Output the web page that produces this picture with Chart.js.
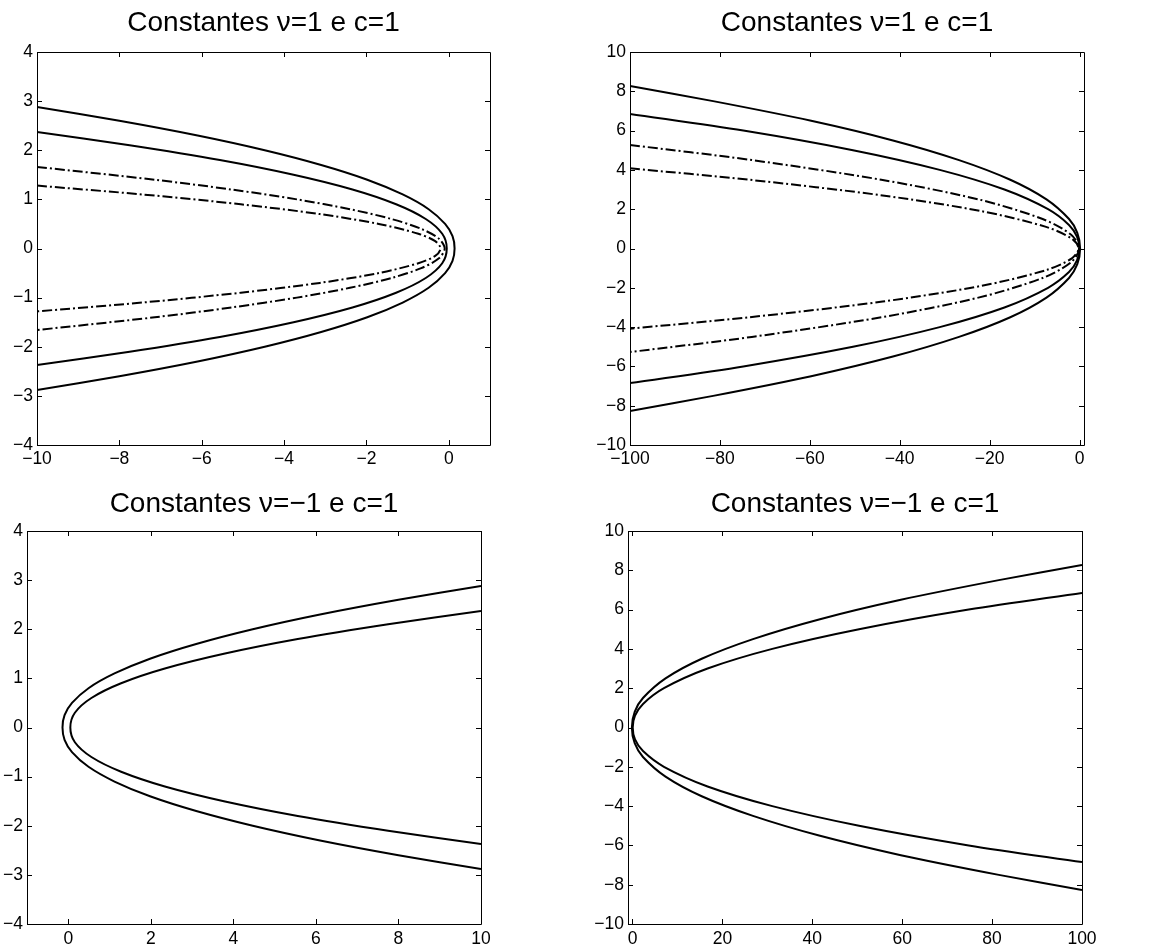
<!DOCTYPE html>
<html>
<head>
<meta charset="utf-8">
<title>Constantes</title>
<script src="https://cdn.jsdelivr.net/npm/chart.js@4"></script>
<style>
  body { margin: 0; background: #fff; }
  #page { position: relative; width: 1152px; height: 948px; }
  canvas { position: absolute; }
</style>
</head>
<body>
<div id="page">
  <canvas id="tl" width="576" height="474" style="left:0;top:0;width:576px;height:474px"></canvas>
  <canvas id="tr" width="576" height="474" style="left:576px;top:0;width:576px;height:474px"></canvas>
  <canvas id="bl" width="576" height="474" style="left:0;top:474px;width:576px;height:474px"></canvas>
  <canvas id="br" width="576" height="474" style="left:576px;top:474px;width:576px;height:474px"></canvas>
</div>
<script>
// titles
const titleTop = "Constantes \u03bd=1 e c=1";
const titleBottom = "Constantes \u03bd=\u22121 e c=1";

// tick labels
const ticksSmallX = [-10, -8, -6, -4, -2, 0];
const ticksBigX = [-100, -80, -60, -40, -20, 0];
const ticksSmallXPos = [0, 2, 4, 6, 8, 10];
const ticksBigXPos = [0, 20, 40, 60, 80, 100];
const ticksSmallY = [-4, -3, -2, -1, 0, 1, 2, 3, 4];
const ticksBigY = [-10, -8, -6, -4, -2, 0, 2, 4, 6, 8, 10];

// top left (nu = 1)
const tlOuterY = [2.88, 2.6, 2.3, 2.0, 1.7, 1.4, 1.1, 0.8, 0.5, 0.25, 0, -0.25, -0.5, -0.8, -1.1, -1.4, -1.7, -2.0, -2.3, -2.6, -2.88];
const tlOuterX = [-10, -8.0, -6.1, -4.47, -3.1, -1.98, -1.12, -0.49, -0.09, 0.09, 0.14, 0.09, -0.09, -0.49, -1.12, -1.98, -3.1, -4.47, -6.1, -8.0, -10];
const tlInnerY = [2.37, 2.1, 1.8, 1.5, 1.2, 0.9, 0.6, 0.3, 0, -0.3, -0.6, -0.9, -1.2, -1.5, -1.8, -2.1, -2.37];
const tlInnerX = [-10, -7.75, -5.56, -3.77, -2.34, -1.28, -0.56, -0.16, -0.05, -0.16, -0.56, -1.28, -2.34, -3.77, -5.56, -7.75, -10];
const tlDashOuterY = [1.66, 1.4, 1.2, 1.0, 0.8, 0.6, 0.4, 0.2, 0, -0.2, -0.4, -0.6, -0.8, -1.0, -1.2, -1.4, -1.66];
const tlDashOuterX = [-10, -7.14, -5.27, -3.69, -2.4, -1.39, -0.67, -0.24, -0.1, -0.24, -0.67, -1.39, -2.4, -3.69, -5.27, -7.14, -10];
const tlDashInnerY = [1.28, 1.1, 0.9, 0.7, 0.5, 0.3, 0.15, 0, -0.15, -0.3, -0.5, -0.7, -0.9, -1.1, -1.28];
const tlDashInnerX = [-10, -7.44, -5.05, -3.13, -1.7, -0.74, -0.33, -0.2, -0.33, -0.74, -1.7, -3.13, -5.05, -7.44, -10];

// top right (nu = 1, wide range)
const trOuterY = [8.27, 7.5, 6.5, 5.5, 4.5, 3.5, 2.5, 1.5, 0.8, 0, -0.8, -1.5, -2.5, -3.5, -4.5, -5.5, -6.5, -7.5, -8.27];
const trOuterX = [-100, -81.5, -59.7, -41.5, -26.8, -15.4, -7.35, -2.33, -0.49, 0.14, -0.49, -2.33, -7.35, -15.4, -26.8, -41.5, -59.7, -81.5, -100];
const trInnerY = [6.85, 6.0, 5.0, 4.0, 3.0, 2.0, 1.2, 0.6, 0, -0.6, -1.2, -2.0, -3.0, -4.0, -5.0, -6.0, -6.85];
const trInnerX = [-100, -74.8, -50.4, -31.1, -16.7, -7.0, -2.34, -0.56, -0.05, -0.56, -2.34, -7.0, -16.7, -31.1, -50.4, -74.8, -100];
const trDashOuterY = [5.27, 4.5, 3.5, 2.5, 1.5, 0.7, 0, -0.7, -1.5, -2.5, -3.5, -4.5, -5.27];
const trDashOuterX = [-100, -72.9, -44.1, -22.5, -8.2, -1.86, -0.1, -1.86, -8.2, -22.5, -44.1, -72.9, -100];
const trDashInnerY = [4.08, 3.5, 2.7, 1.9, 1.1, 0.5, 0, -0.5, -1.1, -1.9, -2.7, -3.5, -4.08];
const trDashInnerX = [-100, -73.5, -43.8, -21.8, -7.44, -1.7, -0.2, -1.7, -7.44, -21.8, -43.8, -73.5, -100];

// bottom left (nu = -1)
const blOuterY = [2.88, 2.6, 2.3, 2.0, 1.7, 1.4, 1.1, 0.8, 0.5, 0.25, 0, -0.25, -0.5, -0.8, -1.1, -1.4, -1.7, -2.0, -2.3, -2.6, -2.88];
const blOuterX = [10, 8.0, 6.1, 4.47, 3.1, 1.98, 1.12, 0.49, 0.09, -0.09, -0.14, -0.09, 0.09, 0.49, 1.12, 1.98, 3.1, 4.47, 6.1, 8.0, 10];
const blInnerY = [2.37, 2.1, 1.8, 1.5, 1.2, 0.9, 0.6, 0.3, 0, -0.3, -0.6, -0.9, -1.2, -1.5, -1.8, -2.1, -2.37];
const blInnerX = [10, 7.75, 5.56, 3.77, 2.34, 1.28, 0.56, 0.16, 0.05, 0.16, 0.56, 1.28, 2.34, 3.77, 5.56, 7.75, 10];

// bottom right (nu = -1, wide range)
const brOuterY = [8.27, 7.5, 6.5, 5.5, 4.5, 3.5, 2.5, 1.5, 0.8, 0, -0.8, -1.5, -2.5, -3.5, -4.5, -5.5, -6.5, -7.5, -8.27];
const brOuterX = [100, 81.5, 59.7, 41.5, 26.8, 15.4, 7.35, 2.33, 0.49, -0.14, 0.49, 2.33, 7.35, 15.4, 26.8, 41.5, 59.7, 81.5, 100];
const brInnerY = [6.85, 6.0, 5.0, 4.0, 3.0, 2.0, 1.2, 0.6, 0, -0.6, -1.2, -2.0, -3.0, -4.0, -5.0, -6.0, -6.85];
const brInnerX = [100, 74.8, 50.4, 31.1, 16.7, 7.0, 2.34, 0.56, 0.05, 0.56, 2.34, 7.0, 16.7, 31.1, 50.4, 74.8, 100];

Chart.defaults.font.family = "'Liberation Sans', Arial, sans-serif";
Chart.defaults.font.size = 17.5;
Chart.defaults.color = "#000";

function pts(xs, ys) {
  return xs.map((x, i) => ({ x: x, y: ys[i] }));
}

function curve(xs, ys, dashed) {
  return {
    data: pts(xs, ys),
    showLine: true,
    borderColor: "#000",
    borderWidth: 2,
    borderDash: dashed ? [10, 3, 2, 3] : [],
    pointRadius: 0,
    tension: 0.3,
  };
}

function minus(v) {
  return String(v).replace("-", "\u2212");
}

// matlab style box with inward ticks on all four sides
const boxPlugin = {
  id: "box",
  afterDraw(chart) {
    const { ctx, chartArea: a, scales } = chart;
    const len = 5;
    ctx.save();
    ctx.strokeStyle = "#000";
    ctx.lineWidth = 1;
    ctx.beginPath();
    ctx.rect(Math.round(a.left) + 0.5, Math.round(a.top) + 0.5,
      Math.round(a.right - a.left), Math.round(a.bottom - a.top));
    scales.x.ticks.forEach(t => {
      const px = Math.round(scales.x.getPixelForValue(t.value)) + 0.5;
      ctx.moveTo(px, a.bottom); ctx.lineTo(px, a.bottom - len);
      ctx.moveTo(px, a.top); ctx.lineTo(px, a.top + len);
    });
    scales.y.ticks.forEach(t => {
      const py = Math.round(scales.y.getPixelForValue(t.value)) + 0.5;
      ctx.moveTo(a.left, py); ctx.lineTo(a.left + len, py);
      ctx.moveTo(a.right, py); ctx.lineTo(a.right - len, py);
    });
    ctx.stroke();
    ctx.restore();
  },
};

function makeChart(id, cfg) {
  return new Chart(document.getElementById(id), {
    type: "scatter",
    data: { datasets: cfg.datasets },
    options: {
      responsive: false,
      animation: false,
      devicePixelRatio: 1,
      layout: { padding: { left: 0, right: cfg.padRight, top: 0, bottom: 0 } },
      plugins: {
        legend: { display: false },
        tooltip: { enabled: false },
        title: {
          display: true,
          text: cfg.title,
          fullSize: false,
          font: { size: 28, weight: "normal" },
          padding: cfg.titlePad,
        },
      },
      scales: {
        x: {
          type: "linear",
          min: cfg.xMin,
          max: cfg.xMax,
          grid: { display: false, drawTicks: false },
          border: { display: false },
          ticks: { autoSkip: false, maxRotation: 0, padding: cfg.xPad, callback: minus },
          afterBuildTicks: s => { s.ticks = cfg.xTicks.map(v => ({ value: v })); },
          afterFit: s => { s.height = cfg.xHeight; },
        },
        y: {
          type: "linear",
          min: cfg.yMin,
          max: cfg.yMax,
          grid: { display: false, drawTicks: false },
          border: { display: false },
          ticks: { autoSkip: false, padding: 4, callback: minus },
          afterBuildTicks: s => { s.ticks = cfg.yTicks.map(v => ({ value: v })); },
          afterFit: s => { s.width = cfg.yWidth; },
        },
      },
    },
    plugins: [boxPlugin],
  });
}

makeChart("tl", {
  title: titleTop,
  titlePad: { top: 6.5, bottom: 11.9 },
  padRight: 86, yWidth: 37, xHeight: 29, xPad: 4,
  xMin: -10, xMax: 1, yMin: -4, yMax: 4,
  xTicks: ticksSmallX, yTicks: ticksSmallY,
  datasets: [
    curve(tlOuterX, tlOuterY, false),
    curve(tlInnerX, tlInnerY, false),
    curve(tlDashOuterX, tlDashOuterY, true),
    curve(tlDashInnerX, tlDashInnerY, true),
  ],
});

makeChart("tr", {
  title: titleTop,
  titlePad: { top: 6.5, bottom: 11.9 },
  padRight: 68, yWidth: 54, xHeight: 29, xPad: 4,
  xMin: -100, xMax: 1, yMin: -10, yMax: 10,
  xTicks: ticksBigX, yTicks: ticksBigY,
  datasets: [
    curve(trOuterX, trOuterY, false),
    curve(trInnerX, trInnerY, false),
    curve(trDashOuterX, trDashOuterY, true),
    curve(trDashInnerX, trDashInnerY, true),
  ],
});

makeChart("bl", {
  title: titleBottom,
  titlePad: { top: 13.2, bottom: 10.2 },
  padRight: 95, yWidth: 27, xHeight: 24, xPad: 5,
  xMin: -1, xMax: 10, yMin: -4, yMax: 4,
  xTicks: ticksSmallXPos, yTicks: ticksSmallY,
  datasets: [
    curve(blOuterX, blOuterY, false),
    curve(blInnerX, blInnerY, false),
  ],
});

makeChart("br", {
  title: titleBottom,
  titlePad: { top: 13.2, bottom: 10.2 },
  padRight: 70, yWidth: 52, xHeight: 24, xPad: 5,
  xMin: -1, xMax: 100, yMin: -10, yMax: 10,
  xTicks: ticksBigXPos, yTicks: ticksBigY,
  datasets: [
    curve(brOuterX, brOuterY, false),
    curve(brInnerX, brInnerY, false),
  ],
});
</script>
</body>
</html>
